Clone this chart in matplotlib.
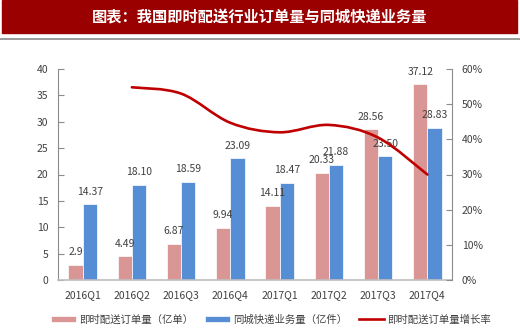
import numpy as np
import matplotlib

matplotlib.use("Agg")
import matplotlib.pyplot as plt
from matplotlib.patches import Rectangle, Path, PathPatch
from matplotlib.lines import Line2D
from matplotlib.ticker import FuncFormatter

plt.rcParams["font.family"] = ["Noto Sans CJK SC", "DejaVu Sans"]

quarters = ["2016Q1", "2016Q2", "2016Q3", "2016Q4",
            "2017Q1", "2017Q2", "2017Q3", "2017Q4"]
orders = [2.9, 4.49, 6.87, 9.94, 14.11, 20.33, 28.56, 37.12]          # 亿单
express = [14.37, 18.10, 18.59, 23.09, 18.47, 21.88, 23.50, 28.83]    # 亿件
order_labels = ["2.9", "4.49", "6.87", "9.94", "14.11", "20.33", "28.56", "37.12"]
express_labels = ["14.37", "18.10", "18.59", "23.09", "18.47", "21.88", "23.50", "28.83"]
growth_q = quarters[1:]
growth = [54.8, 53.0, 44.7, 42.0, 44.1, 40.5, 30.0]                    # %

title = "图表：我国即时配送行业订单量与同城快递业务量"
name_orders = "即时配送订单量（亿单）"
name_express = "同城快递业务量（亿件）"
name_growth = "即时配送订单量增长率"

PINK = "#D99694"
BLUE = "#558ED5"
RED = "#C00000"
TXT = "#404040"
AXC = "#8C8C8C"

W, H = 520, 329
fig = plt.figure(figsize=(W / 100, H / 100), dpi=100)

# title banner
fig.patches.append(Rectangle((2 / W, 1 - 33 / H), 515 / W, 33 / H,
                             transform=fig.transFigure, color="#9A0000", zorder=0))
fig.text(260 / W, 1 - 17 / H, title, color="white", fontsize=11,
         fontweight="bold", ha="center", va="center")
fig.add_artist(Line2D([0, 1], [1 - 38.5 / H] * 2, transform=fig.transFigure,
                      color="#8A8A8A", lw=1.2))

ax = fig.add_axes([58 / W, 49 / H, 394 / W, 211 / H])
x = np.arange(len(quarters))
bw = 0.29
b1 = ax.bar(x - bw / 2, orders, bw, color=PINK, edgecolor="white", linewidth=0.5,
            label=name_orders)
b2 = ax.bar(x + bw / 2, express, bw, color=BLUE, edgecolor="white", linewidth=0.5,
            label=name_express)
for rects, labs in ((b1, order_labels), (b2, express_labels)):
    for r, lab in zip(rects, labs):
        ax.annotate(lab, (r.get_x() + r.get_width() / 2, r.get_height()),
                    xytext=(0, 9), textcoords="offset points", ha="center",
                    va="center", fontsize=7.5, color=TXT)

ax.set_xlim(-0.5, len(quarters) - 0.5)
ax.set_ylim(0, 40)
ax.set_yticks(np.arange(0, 41, 5))
ax.set_xticks(x, quarters)
ax.tick_params(axis="y", direction="in", length=4, width=0.8, color=AXC,
               labelsize=7.5, labelcolor=TXT, pad=7)
ax.tick_params(axis="x", length=0, labelsize=7.5, labelcolor=TXT, pad=7)
for s in ("top", "right"):
    ax.spines[s].set_visible(False)
ax.spines["left"].set_color(AXC)
ax.spines["bottom"].set_color("#BFBFBF")
ax.spines["bottom"].set_linewidth(1.2)

# growth rate on the right axis, drawn as a smoothed curve (Catmull-Rom Bezier)
ax2 = ax.twinx()
ax2.set_ylim(0, 60)
ax2.set_yticks(np.arange(0, 61, 10))
ax2.yaxis.set_major_formatter(FuncFormatter(lambda v, _: f"{v:.0f}%"))
ax2.tick_params(axis="y", direction="in", length=4, width=0.8, color=AXC,
                labelsize=7.5, labelcolor=TXT, pad=7)
for s in ("top", "left", "bottom"):
    ax2.spines[s].set_visible(False)
ax2.spines["right"].set_color(AXC)

gx = np.array([quarters.index(q) for q in growth_q], dtype=float)
pts = np.column_stack([gx, growth])
ext = np.vstack([pts[0], pts, pts[-1]])
verts = [tuple(pts[0])]
codes = [Path.MOVETO]
for i in range(len(pts) - 1):
    p0, p1, p2, p3 = ext[i], ext[i + 1], ext[i + 2], ext[i + 3]
    c1 = p1 + (p2 - p0) / 6
    c2 = p2 - (p3 - p1) / 6
    verts += [tuple(c1), tuple(c2), tuple(p2)]
    codes += [Path.CURVE4] * 3
ax2.add_patch(PathPatch(Path(verts, codes), facecolor="none", edgecolor=RED,
                        lw=1.9, capstyle="round"))

handles = [b1, b2, Line2D([], [], color=RED, lw=1.9)]
fig.legend(handles, [name_orders, name_express, name_growth], loc="center",
           bbox_to_anchor=(271 / W, 9.5 / H), ncol=3, frameon=False,
           fontsize=7.5, handlelength=2.4, handleheight=0.5,
           handletextpad=0.3, columnspacing=1.1, labelcolor=TXT)

fig.savefig("out.png", dpi=100, facecolor="white")
